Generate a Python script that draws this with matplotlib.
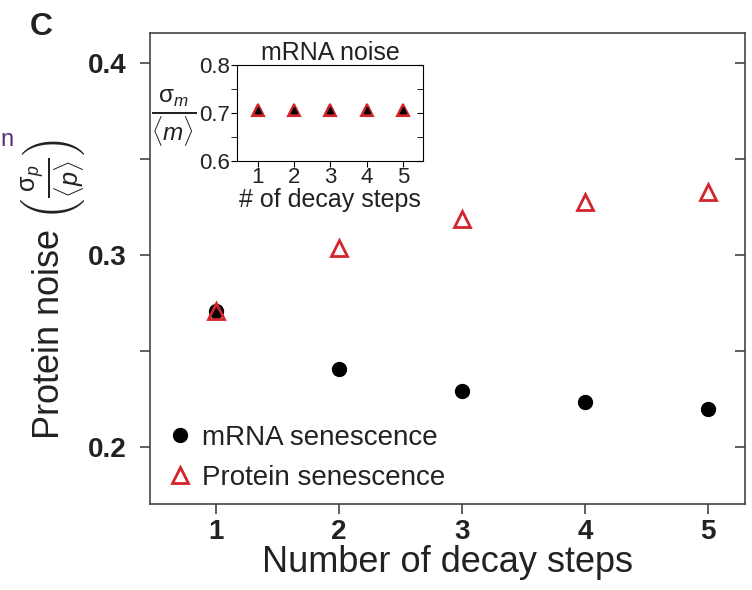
import matplotlib
matplotlib.use('Agg')
import matplotlib.pyplot as plt
import numpy as np

plt.rcParams['font.family'] = ['Liberation Sans', 'DejaVu Sans']
plt.rcParams['mathtext.fontset'] = 'custom'
plt.rcParams['mathtext.rm'] = 'Liberation Sans'
plt.rcParams['mathtext.it'] = 'Liberation Sans:italic'

# decay steps and noise values
steps = [1, 2, 3, 4, 5]
mrna_sen = [0.2708, 0.2406, 0.2292, 0.2234, 0.2198]
prot_sen = [0.2710, 0.3036, 0.3187, 0.3276, 0.3328]
mrna_noise_m = [0.707, 0.707, 0.707, 0.707, 0.707]
mrna_noise_p = [0.707, 0.707, 0.707, 0.707, 0.707]

txt = '#222222'
red = '#d4242c'
grey = '#444444'

fig = plt.figure(figsize=(7.52, 5.90), dpi=100)
ax = fig.add_axes([0.1995, 0.1458, 0.7912, 0.7982])

ax.plot(steps, mrna_sen, 'o', color='black', markersize=10, label='mRNA senescence')
ax.plot(steps, prot_sen, '^', markerfacecolor='none', markeredgecolor=red,
        markeredgewidth=2, markersize=11, label='Protein senescence')

ylim = (0.1703, 0.4156)
ax.set_xlim(0.465, 5.3)
ax.set_ylim(ylim)
ax.set_xticks(steps)
ax.set_yticks([0.2, 0.3, 0.4])
ax.set_yticks([0.25, 0.35], minor=True)
ax.tick_params(axis='both', which='both', colors=grey, labelcolor=txt,
               labelsize=20, width=1.2, direction='out', length=7)
ax.tick_params(axis='x', pad=4)
ax.tick_params(axis='y', pad=10)
for lb in ax.get_xticklabels() + ax.get_yticklabels():
    lb.set_fontweight('bold')
for s in ax.spines.values():
    s.set_color(grey)
    s.set_linewidth(1.2)

# inward ticks on the right side
axr = ax.twinx()
axr.set_ylim(ylim)
axr.set_yticks([0.2, 0.3, 0.4])
axr.set_yticks([0.25, 0.35], minor=True)
axr.tick_params(axis='y', which='both', direction='in', length=7, width=1.2,
                colors=grey, labelright=False)
for s in axr.spines.values():
    s.set_visible(False)

ax.set_xlabel('Number of decay steps', fontsize=26, color=txt, labelpad=0)
ax.set_ylabel(r'Protein noise $\left(\frac{\mathrm{\sigma}_p}{\langle p\rangle}\right)$',
              fontsize=26, color=txt)
ax.yaxis.set_label_coords(-0.104, 0.455)

ax.legend(loc='lower left', bbox_to_anchor=(-0.02, -0.025), frameon=False,
          fontsize=20, handletextpad=0.2, labelspacing=0.5, labelcolor=txt,
          handlelength=1.2)

# inset: mRNA noise
ins = fig.add_axes([0.315, 0.727, 0.2475, 0.1628])
ins.plot(steps, mrna_noise_p, '^', color='#b01c22', markeredgecolor=red,
         markeredgewidth=1.5, markersize=9)
ins.plot(steps, mrna_noise_m, '^', color='black', markersize=5)
ins.set_xlim(0.42, 5.55)
ins.set_ylim(0.6, 0.8)
ins.set_xticks(steps)
ins.set_yticks([0.6, 0.7, 0.8])
ins.set_yticks([0.65, 0.75], minor=True)
ins.tick_params(axis='both', which='both', labelsize=16, labelcolor=txt,
                direction='out', length=4, pad=1)
ins.tick_params(axis='x', pad=0)
ins.set_title('mRNA noise', fontsize=18, color=txt, pad=1)
ins.set_xlabel('# of decay steps', fontsize=18, color=txt, labelpad=0)

insr = ins.twinx()
insr.set_ylim(0.6, 0.8)
insr.set_yticks([0.6, 0.7, 0.8])
insr.set_yticks([0.65, 0.75], minor=True)
insr.tick_params(axis='y', which='both', direction='in', length=4,
                 labelright=False)
for s in insr.spines.values():
    s.set_visible(False)

fig.text(0.231, 0.8, r'$\frac{\mathrm{\sigma}_m}{\langle m\rangle}$', fontsize=25,
         color=txt, ha='center', va='center')

fig.text(0.040, 0.955, 'C', fontsize=23, fontweight='bold', color=txt,
         va='center', ha='left')
fig.text(0.0, 0.762, 'n', fontsize=17, color='#5a2d6e', va='center', ha='left')

fig.savefig('out.png', dpi=100)
